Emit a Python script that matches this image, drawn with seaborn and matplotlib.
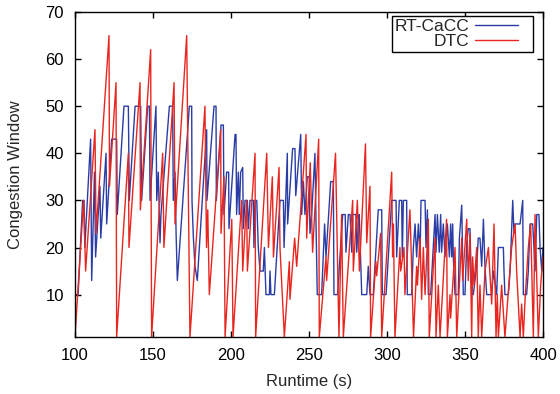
import matplotlib
matplotlib.use("Agg")
import matplotlib.pyplot as plt
import pandas as pd
import seaborn as sns
from matplotlib.legend_handler import HandlerLine2D
from matplotlib.lines import Line2D

# RT-CaCC congestion window over runtime (s)
rt_time = [100.0, 102.0, 104.9, 105.8, 106.3, 110.0, 110.7, 112.5, 113.2, 116.0,
           116.5, 119.9, 120.3, 123.5, 126.7, 127.1, 131.4, 134.2, 134.8, 138.5,
           142.1, 142.7, 146.6, 147.7, 148.1, 151.9, 152.4, 153.4, 154.5, 155.1,
           160.5, 162.6, 163.0, 164.1, 164.8, 165.6, 173.3, 174.8, 175.0, 175.9,
           176.9, 178.4, 184.4, 184.6, 189.1, 190.4, 190.6, 193.6, 195.1, 195.5,
           197.2, 198.5, 198.7, 202.6, 203.2, 203.6, 204.7, 205.3, 206.2, 207.5,
           207.9, 209.0, 210.5, 211.1, 212.2, 214.3, 214.7, 215.4, 216.5, 217.5,
           218.6, 220.7, 221.4, 222.4, 224.6, 225.0, 225.6, 227.8, 231.4, 233.6,
           234.0, 236.1, 236.3, 239.5, 241.0, 241.5, 244.7, 245.3, 246.4, 247.4,
           248.9, 250.2, 250.6, 251.7, 253.8, 254.5, 255.3, 258.1, 260.0, 260.9,
           263.9, 265.6, 266.0, 268.3, 271.6, 273.2, 273.7, 275.2, 276.3, 277.4,
           278.0, 280.1, 280.6, 281.6, 282.2, 283.8, 287.0, 288.0, 289.1, 291.2,
           294.4, 296.6, 297.0, 299.4, 303.0, 305.8, 306.2, 307.9, 309.4, 309.8,
           310.5, 312.6, 313.0, 315.8, 316.9, 318.0, 319.0, 320.1, 321.2, 321.8,
           323.3, 324.4, 325.0, 325.9, 326.5, 328.0, 330.8, 331.4, 332.3, 333.5,
           334.4, 335.0, 336.1, 337.2, 338.7, 340.0, 340.8, 341.5, 342.1, 342.5,
           343.6, 345.7, 346.4, 347.9, 348.9, 350.0, 351.1, 352.1, 353.2, 354.3,
           355.3, 357.5, 358.5, 359.6, 360.7, 361.8, 362.8, 363.9, 367.1, 368.2,
           370.3, 371.4, 374.6, 375.0, 375.6, 377.8, 378.9, 380.6, 381.4, 382.1,
           385.3, 387.0, 387.4, 389.5, 390.6, 391.7, 393.4, 394.2, 394.9, 396.0,
           397.4, 398.1, 399.2, 400.0]
rt_cwnd = [10, 10, 30, 30, 20, 43, 13, 36, 18, 33,
           22, 40, 25, 43, 43, 27, 50, 50, 30, 50,
           50, 30, 50, 50, 30, 50, 30, 36, 21, 27,
           50, 50, 30, 36, 23, 13, 50, 50, 30, 22,
           16, 13, 45, 30, 50, 50, 30, 46, 46, 27,
           36, 36, 24, 44, 44, 27, 36, 27, 36, 37,
           24, 30, 30, 24, 30, 30, 20, 30, 30, 20,
           15, 15, 20, 10, 10, 15, 10, 10, 30, 30,
           20, 40, 25, 41, 41, 31, 44, 27, 34, 27,
           35, 35, 23, 27, 40, 25, 10, 10, 25, 18,
           34, 34, 10, 10, 27, 27, 19, 27, 27, 19,
           27, 27, 19, 25, 27, 10, 10, 16, 10, 10,
           28, 28, 10, 10, 30, 30, 18, 30, 30, 18,
           30, 30, 10, 10, 20, 25, 18, 25, 18, 30,
           30, 30, 20, 28, 10, 10, 27, 19, 27, 19,
           27, 19, 25, 18, 25, 18, 25, 18, 25, 18,
           10, 10, 22, 29, 10, 10, 21, 24, 24, 10,
           10, 16, 22, 22, 16, 26, 16, 10, 10, 15,
           10, 20, 20, 15, 10, 10, 15, 30, 23, 25,
           25, 30, 10, 10, 15, 25, 25, 20, 15, 27,
           27, 20, 15, 20]

# DTC congestion window over runtime (s)
dtc_time = [100.0, 105.5, 106.8, 112.8, 113.5, 121.8, 122.1, 126.3, 126.7, 134.2,
            134.6, 141.7, 141.9, 148.5, 149.1, 156.2, 157.0, 163.5, 164.1, 171.6,
            172.6, 173.7, 183.3, 184.3, 185.1, 186.1, 193.4, 193.6, 195.5, 196.2,
            200.5, 201.3, 206.8, 207.5, 210.0, 210.5, 215.4, 215.8, 222.9, 224.0,
            226.5, 227.2, 230.8, 231.4, 234.2, 237.4, 237.8, 240.8, 242.1, 248.1,
            248.5, 250.8, 252.3, 256.2, 256.6, 260.9, 261.3, 267.0, 269.2, 270.9,
            272.0, 278.0, 278.4, 281.0, 282.3, 286.2, 287.0, 289.1, 289.5, 292.9,
            293.4, 295.9, 296.6, 303.0, 303.6, 304.1, 305.1, 308.3, 308.8, 310.9,
            311.5, 314.7, 315.6, 317.0, 319.0, 319.5, 321.2, 322.2, 323.3, 324.4,
            326.5, 327.1, 330.8, 331.4, 332.9, 334.0, 338.2, 338.7, 340.4, 340.8,
            343.6, 344.7, 347.9, 348.5, 351.1, 352.1, 353.2, 354.3, 354.9, 355.8,
            357.5, 358.5, 359.6, 360.7, 362.8, 365.0, 367.1, 368.6, 369.9, 370.7,
            371.4, 373.5, 375.6, 379.9, 382.1, 383.1, 385.3, 386.3, 387.4, 388.5,
            390.6, 392.1, 393.8, 394.9, 397.0, 398.5, 400.0]
dtc_cwnd = [1, 30, 15, 45, 23, 65, 33, 55, 1, 40,
            20, 55, 28, 62, 1, 40, 20, 55, 25, 65,
            33, 1, 50, 20, 28, 10, 45, 23, 35, 1,
            26, 1, 30, 15, 30, 15, 40, 1, 40, 20,
            35, 18, 37, 20, 1, 17, 9, 22, 16, 44,
            22, 38, 19, 43, 1, 18, 13, 40, 1, 27,
            1, 30, 15, 30, 15, 42, 21, 33, 1, 17,
            14, 23, 1, 36, 18, 25, 1, 20, 15, 20,
            10, 28, 18, 1, 16, 12, 22, 9, 20, 10,
            26, 1, 22, 1, 12, 1, 26, 1, 10, 5,
            20, 1, 22, 13, 26, 13, 23, 1, 18, 12,
            20, 1, 12, 1, 15, 20, 8, 25, 1, 10,
            1, 12, 1, 20, 25, 15, 1, 8, 1, 9,
            20, 25, 1, 27, 1, 12, 18]

series_names = ["RT-CaCC", "DTC"]
series_colors = ["#2a3da6", "#e8261f"]
x_ticks = [100, 150, 200, 250, 300, 350, 400]
y_ticks = [10, 20, 30, 40, 50, 60, 70]

frames = [
    pd.DataFrame({"Runtime": rt_time, "Cwnd": rt_cwnd, "Series": series_names[0]}),
    pd.DataFrame({"Runtime": dtc_time, "Cwnd": dtc_cwnd, "Series": series_names[1]}),
]
df = pd.concat(frames, ignore_index=True)

sns.set_theme(style="ticks")
plt.rcParams["font.family"] = ["Liberation Sans", "DejaVu Sans"]

FS = 12
LEG_FS = 12.5
W, H = 560, 394
fig = plt.figure(figsize=(W / 100, H / 100), dpi=100)
ax = fig.add_axes([75 / W, (H - 337) / H, (543 - 75) / W, (337 - 12) / H])

sns.lineplot(data=df, x="Runtime", y="Cwnd", hue="Series",
             palette=dict(zip(series_names, series_colors)),
             hue_order=series_names, estimator=None, sort=False,
             linewidth=1.0, ax=ax)

ax.set_xlim(100, 400)
ax.set_ylim(1, 70)
ax.set_xticks(x_ticks)
ax.set_yticks(y_ticks)
ax.set_xlabel("Runtime (s)", fontsize=FS, labelpad=8)
ax.set_ylabel("Congestion Window", fontsize=FS, labelpad=16)

for side in ["left", "right", "top", "bottom"]:
    ax.spines[side].set_visible(True)
    ax.spines[side].set_color("black")
    ax.spines[side].set_linewidth(1.0)
ax.tick_params(direction="in", top=True, right=True, length=4, width=1.0,
               labelsize=FS, pad=8, colors="black")


class SampleLine(HandlerLine2D):
    """Legend line sample that leaves a blank gap at its right end."""

    def __init__(self, gap_px, **kw):
        super().__init__(**kw)
        self.gap_px = gap_px

    def create_artists(self, legend, orig_handle, xdescent, ydescent,
                       width, height, fontsize, trans):
        return super().create_artists(legend, orig_handle, xdescent, ydescent,
                                      width - self.gap_px, height, fontsize, trans)


handles, labels = ax.get_legend_handles_labels()
leg = ax.legend(handles, labels, loc="upper right",
                bbox_to_anchor=((533 - 75) / 468, (337 - 16) / 325),
                borderaxespad=0, markerfirst=False, fancybox=False,
                frameon=True, edgecolor="black", framealpha=1,
                fontsize=LEG_FS, handlelength=3.2, handletextpad=0.3,
                labelspacing=0.0, borderpad=0.15,
                handler_map={Line2D: SampleLine(gap_px=9)})
leg.get_frame().set_linewidth(1.0)

fig.savefig("out.png", dpi=100)
